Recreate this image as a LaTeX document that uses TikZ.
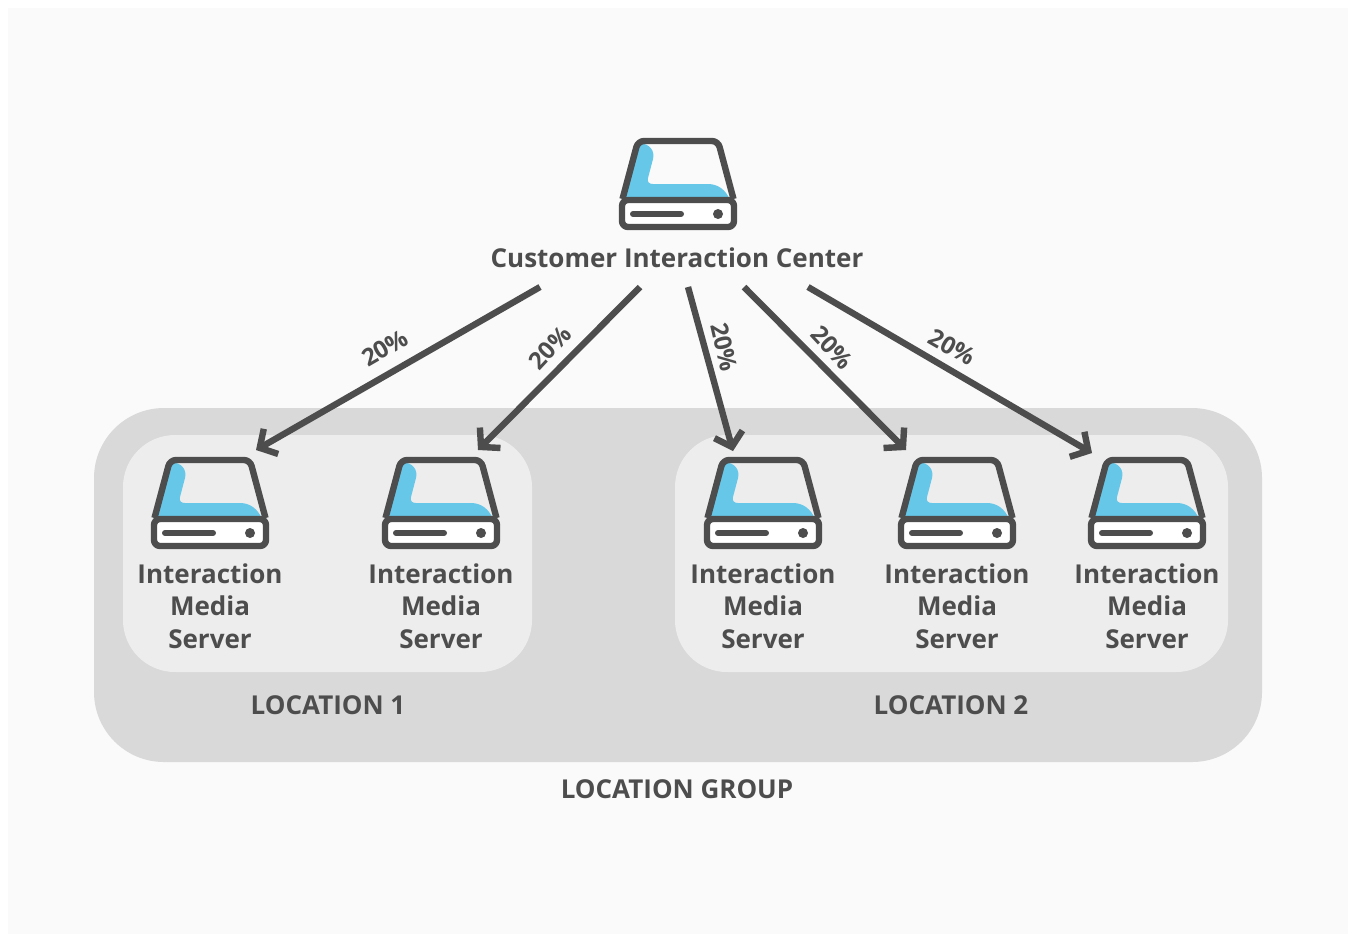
\documentclass[tikz,border=0pt]{standalone}
\usepackage{fontspec}
\setmainfont{Open Sans}
\usetikzlibrary{arrows.meta}
\definecolor{ink}{HTML}{4D4D4D}
\definecolor{paper}{HTML}{FAFAFA}
\definecolor{groupgray}{HTML}{D9D9D9}
\definecolor{locgray}{HTML}{EDEDED}
\definecolor{diskblue}{HTML}{66C7E8}
\tikzset{
    caption/.style={text=ink, font=\fontsize{13}{16.2}\selectfont\bfseries, align=center, inner sep=0pt},
    share/.style={text=ink, font=\fontsize{12}{14}\selectfont\bfseries, inner sep=0pt},
    link/.style={draw=ink, line width=3.2pt, -{Straight Barb[length=6.5pt, width=14.5pt]}},
    server/.pic={
        \fill[pic actions] (-40,0) -- (40,0) -- (56,59) -- (-56,59) -- cycle;
        \fill[diskblue] (-38,2) .. controls (-28,3) and (-23,10) .. (-25,18) -- (-30,37)
            .. controls (-31,41) and (-29,43) .. (-25,43) -- (30,43)
            .. controls (40,43) and (48,49) .. (52,59) -- (-53,59) -- cycle;
        \fill[white] (-56,59) rectangle (56,86);
        \draw[ink, line width=3.2pt, line join=round, rounded corners=3pt]
            (-55.5,58) -- (-40,0) -- (40,0) -- (55.5,58);
        \draw[ink, line width=3.2pt, line join=round, rounded corners=3pt] (-56,59) rectangle (56,86);
        \draw[ink, line width=3pt, line cap=round] (-45,73) -- (3,73);
        \fill[ink] (40,73) circle (5);
    }
}
\begin{document}
\begin{tikzpicture}[x=0.5pt, y=-0.5pt]
    \useasboundingbox (0,0) rectangle (1348,934);
    \fill[white] (0,0) rectangle (1348,934);
    \fill[paper] (8,8) rectangle (1348,934);
    \fill[groupgray, rounded corners=35pt] (94,408) rectangle (1262,762);
    \fill[locgray, rounded corners=26pt] (123,435) rectangle (532,672);
    \fill[locgray, rounded corners=26pt] (675,435) rectangle (1228,672);
    % servers
    \path (678,141) pic[fill=paper] {server};
    \node[caption] (center) at (677,258) {Customer Interaction Center};
    \foreach \name/\posx in {ims1/210, ims2/441, ims3/763, ims4/957, ims5/1147} {
        \path (\posx,460) pic[fill=locgray] {server};
        \node[caption] (\name) at (\posx,606) {Interaction\\Media\\Server};
    }
    \node[caption] (loc1) at (328,705) {LOCATION 1};
    \node[caption] (loc2) at (951,705) {LOCATION 2};
    \node[caption] (locgroup) at (677,789) {LOCATION GROUP};
    % connectors
    \coordinate (s1) at (540,287);
    \coordinate (s2) at (640,287);
    \coordinate (s3) at (688,287);
    \coordinate (s4) at (744,287);
    \coordinate (s5) at (808,287);
    \coordinate (e1) at (256,450);
    \coordinate (e2) at (478,450);
    \coordinate (e3) at (733,451);
    \coordinate (e4) at (906,450);
    \coordinate (e5) at (1092,453);
    \foreach \i in {1,...,5}
        \draw[link] (s\i) -- (e\i);
    \foreach \i/\posx/\posy/\ang in {1/385/348/30, 2/550/348/47, 3/724/347/-77, 4/832/348/-47, 5/952/347/-30}
        \node[share, rotate=\ang] (pct\i) at (\posx,\posy) {20\%};
\end{tikzpicture}
\end{document}
